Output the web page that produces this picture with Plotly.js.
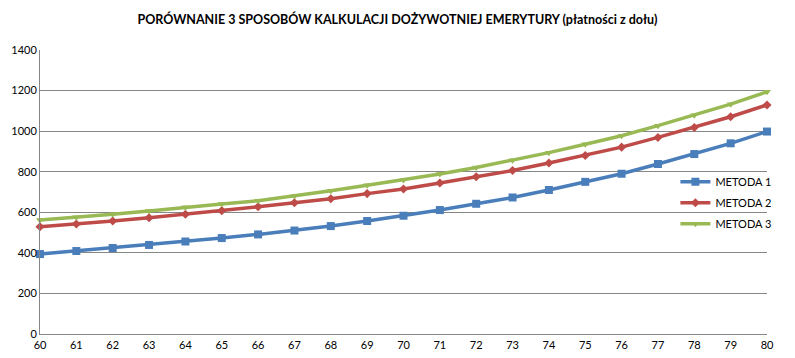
<!DOCTYPE html>
<html><head><meta charset="utf-8">
<script src="https://cdn.plot.ly/plotly-3.0.1.min.js"></script>
<style>body{margin:0;background:#fff}#c{width:795px;height:358px}</style>
</head><body><div id="c"></div>
<script>
const ages = [60,61,62,63,64,65,66,67,68,69,70,71,72,73,74,75,76,77,78,79,80];
const metoda1 = [394,409,424,439,456,473,491,510,532,557,583,611,642,673,710,750,790,838,887,940,998];
const metoda2 = [529,542,557,573,590,608,627,647,667,692,715,744,775,806,843,880,921,969,1018,1071,1129];
const metoda3 = [562,575,590,606,625,641,657,680,706,733,759,789,821,856,894,935,977,1027,1078,1133,1194];
const names = ['METODA 1','METODA 2','METODA 3'];
const colors = ['#4A7EBB','#BE4B48','#98B954'];
const symbols = ['square','diamond','triangle-down'];
const series = [metoda1, metoda2, metoda3];
const traces = series.map((s,i)=>({
  x: ages, y: s, name: names[i], type:'scatter', mode:'lines+markers',
  legendgroup:'g'+i,
  line:{color:colors[i], width:3.5},
  marker:{symbol:symbols[i], size: i===0?8:7, color:colors[i]},
  cliponaxis:false
}));
const layout = {
  width:795, height:358,
  margin:{l:40, r:28, t:50, b:24},
  paper_bgcolor:'#fff', plot_bgcolor:'#fff',
  font:{family:'Lato, "DejaVu Sans", sans-serif', size:11, color:'#000'},
  title:{text:'<b>PORÓWNANIE 3 SPOSOBÓW KALKULACJI DOŻYWOTNIEJ EMERYTURY (płatności z dołu)</b>',
    font:{family:'Lato, sans-serif', size:12.5, color:'#000'}, x:0.5, xanchor:'center', y:0.945, yanchor:'middle'},
  xaxis:{range:[60,80], tickmode:'array', tickvals:ages, ticktext:ages.map(String),
    showgrid:false, zeroline:false, showline:true, linecolor:'#868686', linewidth:1,
    ticks:'', ticklen:0, tickfont:{size:11}, ticklabelstandoff:1, fixedrange:true},
  yaxis:{range:[0,1400], dtick:200, showgrid:true, gridcolor:'#868686', gridwidth:1,
    zeroline:false, showline:true, linecolor:'#868686', linewidth:1, ticks:'',
    tickfont:{size:11}, fixedrange:true},
  legend:{x:0.874, xanchor:'left', y:0.587, yanchor:'top', bgcolor:'rgba(0,0,0,0)',
    font:{size:11}, traceorder:'grouped', tracegroupgap:2, itemwidth:30},
  showlegend:true
};
Plotly.newPlot('c', traces, layout, {displayModeBar:false, staticPlot:true});
</script></body></html>
